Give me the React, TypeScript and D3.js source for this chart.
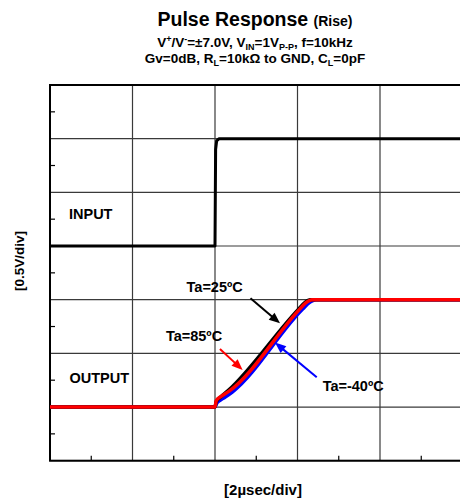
import { useEffect } from 'react'
import * as d3 from 'd3'

// time in µs, voltage in V (0.5V/div, 0 at the bottom of the screen)
const inputTime = [0, 4.0, 4.015, 4.04, 4.1, 10]
const inputVolt = [2.0, 2.0, 2.9, 2.98, 3.0, 3.0]

const out25Time = [0, 4.0, 4.03, 4.13, 4.31, 6.02, 6.17, 6.3, 10]
const out25Volt = [0.5, 0.5, 0.55, 0.59, 0.65, 1.41, 1.47, 1.5, 1.5]

const out85Time = [0, 4.0, 4.03, 4.15, 4.35, 6.05, 6.2, 6.35, 10]
const out85Volt = [0.5, 0.5, 0.56, 0.6, 0.65, 1.41, 1.47, 1.5, 1.5]

const outM40Time = [0, 4.0, 4.05, 4.2, 4.42, 6.12, 6.28, 6.45, 10]
const outM40Volt = [0.5, 0.5, 0.54, 0.58, 0.64, 1.41, 1.47, 1.5, 1.5]

const xTicks = [0, 2, 4, 6, 8, 10]
const yTicks = [0, 0.5, 1, 1.5, 2, 2.5, 3, 3.5]

// annotations in data units, arrow tip at "to"
const arrows = [
  { color: '#000000', from: [4.86, 1.513], to: [5.576, 1.28] },
  { color: '#ff0000', from: [4.12, 1.041], to: [4.67, 0.845] },
  { color: '#0000ff', from: [6.466, 0.777], to: [5.455, 1.1] },
]
const labels = [
  { text: 'Ta=25ºC', x: 3.31, y: 1.575 },
  { text: 'Ta=85ºC', x: 2.81, y: 1.116 },
  { text: 'Ta=-40ºC', x: 6.61, y: 0.652 },
  { text: 'INPUT', x: 0.46, y: 2.253 },
  { text: 'OUTPUT', x: 0.47, y: 0.721 },
]

const W = 460
const H = 504
const margin = { top: 85, left: 50, right: 462.5, bottom: 460.7 }
const font = 'Liberation Sans, Arial, sans-serif'

export default function App() {
  useEffect(() => {
    document.body.style.margin = '0'
  }, [])

  const x = d3.scaleLinear().domain([0, 10]).range([margin.left, margin.right])
  const y = d3.scaleLinear().domain([0, 3.5]).range([margin.bottom, margin.top])

  const smooth = d3.line<[number, number]>()
    .x(d => x(d[0]))
    .y(d => y(d[1]))
    .curve(d3.curveMonotoneX)
  const inputLine = d3.line<[number, number]>().x(d => x(d[0])).y(d => y(d[1]))

  const zip = (t: number[], v: number[]) => t.map((tt, i) => [tt, v[i]] as [number, number])

  const xMinor = d3.range(1, 10, 2)
  const yMinor = d3.range(0.25, 3.5, 0.5)

  const head = (from: number[], to: number[]) => {
    const x0 = x(from[0]), y0 = y(from[1]), x1 = x(to[0]), y1 = y(to[1])
    const a = Math.atan2(y1 - y0, x1 - x0)
    const len = 11, wid = 4.5
    const bx = x1 - len * Math.cos(a), by = y1 - len * Math.sin(a)
    const px = -Math.sin(a) * wid, py = Math.cos(a) * wid
    return {
      shaft: [x0, y0, bx + 2 * Math.cos(a), by + 2 * Math.sin(a)],
      pts: `${x1},${y1} ${bx + px},${by + py} ${bx - px},${by - py}`,
    }
  }

  return (
    <svg width={W} height={H} style={{ display: 'block', background: '#fff' }} fontFamily={font}>
      {/* titles */}
      <text x={255} y={26} textAnchor="middle" fontWeight="bold" fontSize={19.5}>
        Pulse Response <tspan fontSize={14}>(Rise)</tspan>
      </text>
      <text x={255} y={47} textAnchor="middle" fontWeight="bold" fontSize={13.5}>
        V<tspan fontSize={9} dy={-5}>+</tspan><tspan dy={5}>/V</tspan>
        <tspan fontSize={9} dy={-5}>-</tspan><tspan dy={5}>=±7.0V, V</tspan>
        <tspan fontSize={9} dy={3}>IN</tspan><tspan dy={-3}>=1V</tspan>
        <tspan fontSize={9} dy={3}>P-P</tspan><tspan dy={-3}>, f=10kHz</tspan>
      </text>
      <text x={255} y={63} textAnchor="middle" fontWeight="bold" fontSize={13.5}>
        Gv=0dB, R<tspan fontSize={9} dy={3}>L</tspan><tspan dy={-3}>=10kΩ to GND, C</tspan>
        <tspan fontSize={9} dy={3}>L</tspan><tspan dy={-3}>=0pF</tspan>
      </text>

      {/* grid */}
      {xTicks.map(t => (
        <line key={'gx' + t} x1={x(t)} x2={x(t)} y1={y(0)} y2={y(3.5)} stroke="#3a3a3a" strokeWidth={1.2} />
      ))}
      {yTicks.map(t => (
        <line key={'gy' + t} x1={x(0)} x2={x(10)} y1={y(t)} y2={y(t)} stroke="#3a3a3a" strokeWidth={1.2} />
      ))}
      {xMinor.map(t => (
        <line key={'mx' + t} x1={x(t)} x2={x(t)} y1={y(0)} y2={y(0) - 5} stroke="#000" strokeWidth={1.2} />
      ))}
      {yMinor.map(t => (
        <line key={'my' + t} x1={x(0)} x2={x(0) + 5} y1={y(t)} y2={y(t)} stroke="#000" strokeWidth={1.2} />
      ))}
      <rect x={x(0)} y={y(3.5)} width={x(10) - x(0)} height={y(0) - y(3.5)} fill="none" stroke="#000" strokeWidth={2} />

      {/* traces */}
      <path d={inputLine(zip(inputTime, inputVolt)) ?? ''} fill="none" stroke="#000" strokeWidth={3} strokeLinejoin="round" />
      <path d={smooth(zip(outM40Time, outM40Volt)) ?? ''} fill="none" stroke="#0000ff" strokeWidth={3.5} />
      <path d={smooth(zip(out25Time, out25Volt)) ?? ''} fill="none" stroke="#000" strokeWidth={3.5} />
      <path d={smooth(zip(out85Time, out85Volt)) ?? ''} fill="none" stroke="#ff0000" strokeWidth={3.5} />

      {/* annotations */}
      {arrows.map((a, i) => {
        const h = head(a.from, a.to)
        return (
          <g key={'ar' + i}>
            <line x1={h.shaft[0]} y1={h.shaft[1]} x2={h.shaft[2]} y2={h.shaft[3]} stroke={a.color} strokeWidth={2} />
            <polygon points={h.pts} fill={a.color} />
          </g>
        )
      })}
      {labels.map(l => (
        <text key={l.text} x={x(l.x)} y={y(l.y)} fontWeight="bold" fontSize={14.5}>{l.text}</text>
      ))}

      {/* axis labels */}
      <text x={263} y={495} textAnchor="middle" fontWeight="bold" fontSize={15}>[2µsec/div]</text>
      <text transform="translate(24,261) rotate(-90)" textAnchor="middle" fontWeight="bold" fontSize={13.5}>[0.5V/div]</text>
    </svg>
  )
}
